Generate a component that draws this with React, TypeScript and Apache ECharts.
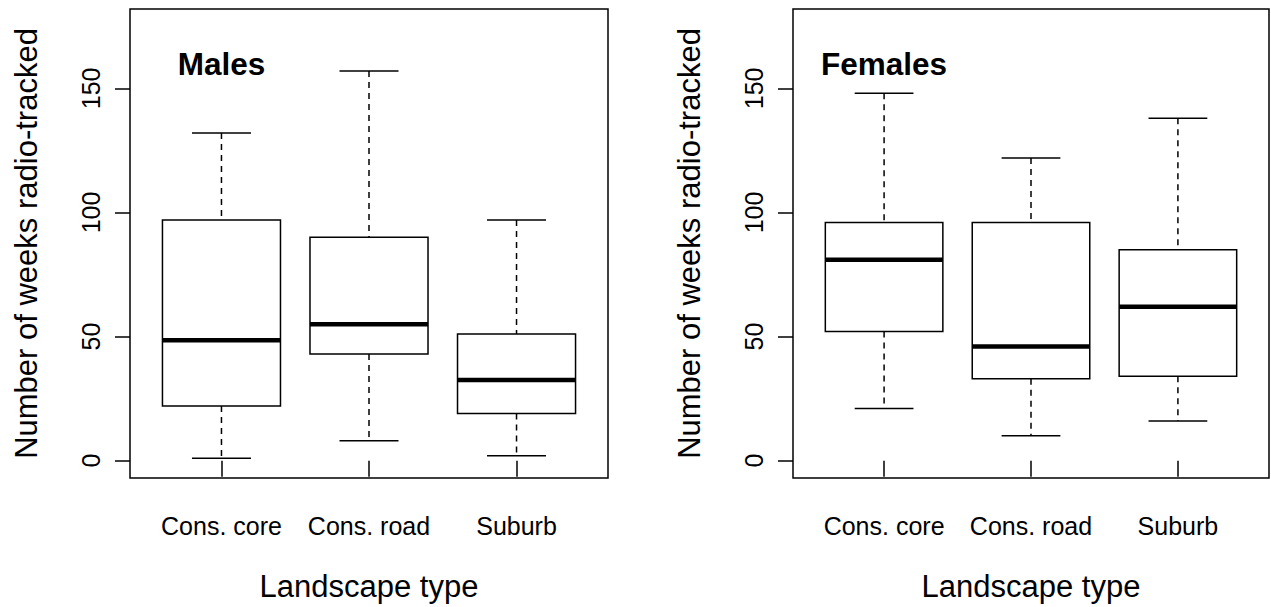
import React, { useEffect, useRef } from 'react';
import * as echarts from 'echarts';

const categories = ['Cons. core', 'Cons. road', 'Suburb'];
const xPositions = [1, 2, 3];
// [lower whisker, Q1, median, Q3, upper whisker]
const maleStats = [
  [1, 22, 48.5, 97, 132],
  [8, 43, 55, 90, 157],
  [2, 19, 32.5, 51, 97],
];
const femaleStats = [
  [21, 52, 81, 96, 148],
  [10, 33, 46, 96, 122],
  [16, 34, 62, 85, 138],
];
const yTicks = [0, 50, 100, 150];
const panelTitles = ['Males', 'Females'];
const titlePos = [1, 160];
const xTitle = 'Landscape type';
const yTitle = 'Number of weeks radio-tracked';

const FONT = '"Liberation Sans", Arial, Helvetica, sans-serif';

const renderBox = (params: any, api: any) => {
  const x = api.value(0);
  const lo = api.value(1);
  const q1 = api.value(2);
  const med = api.value(3);
  const q3 = api.value(4);
  const hi = api.value(5);
  const cx = api.coord([x, 0])[0];
  const y = (v: number) => api.coord([x, v])[1];
  const halfW = api.size([0.4, 0])[0];
  const capW = halfW / 2;
  const base = { stroke: '#000', lineWidth: 1.5, fill: null };
  return {
    type: 'group',
    children: [
      { type: 'line', shape: { x1: cx, y1: y(hi), x2: cx, y2: y(q3) }, style: { ...base, lineDash: [6, 5] } },
      { type: 'line', shape: { x1: cx, y1: y(q1), x2: cx, y2: y(lo) }, style: { ...base, lineDash: [6, 5] } },
      { type: 'line', shape: { x1: cx - capW, y1: y(hi), x2: cx + capW, y2: y(hi) }, style: base },
      { type: 'line', shape: { x1: cx - capW, y1: y(lo), x2: cx + capW, y2: y(lo) }, style: base },
      {
        type: 'rect',
        shape: { x: cx - halfW, y: y(q3), width: 2 * halfW, height: y(q1) - y(q3) },
        style: { stroke: '#000', lineWidth: 1.5, fill: '#fff' },
      },
      {
        type: 'line',
        shape: { x1: cx - halfW, y1: y(med), x2: cx + halfW, y2: y(med) },
        style: { stroke: '#000', lineWidth: 4.5, lineCap: 'butt' },
      },
    ],
  };
};

export default function App() {
  const ref = useRef<HTMLDivElement>(null);
  useEffect(() => {
    if (!ref.current) return;
    const chart = echarts.init(ref.current, null, { renderer: 'svg' });
    const grids = [
      { left: 130, top: 9, width: 478, height: 470 },
      { left: 793, top: 9, width: 476, height: 470 },
    ];
    const datasets = [maleStats, femaleStats];
    const option: any = {
      animation: false,
      backgroundColor: '#fff',
      textStyle: { fontFamily: FONT },
      grid: grids.map((g) => ({
        ...g,
        show: true,
        borderColor: '#000',
        borderWidth: 1.5,
        backgroundColor: 'transparent',
      })),
      xAxis: grids.map((_, i) => ({
        type: 'value',
        gridIndex: i,
        min: 0.38,
        max: 3.62,
        axisLine: { show: false },
        splitLine: { show: false },
        axisTick: { show: true, customValues: xPositions, length: 16, lineStyle: { color: '#000', width: 1.5 } },
        axisLabel: {
          customValues: xPositions,
          formatter: (v: number) => categories[Math.round(v) - 1],
          fontSize: 25,
          color: '#000',
          margin: 35,
          fontFamily: FONT,
        },
        name: xTitle,
        nameLocation: 'middle',
        nameGap: 93,
        nameTextStyle: { fontSize: 31, color: '#000', fontFamily: FONT },
      })),
      yAxis: grids.map((_, i) => ({
        type: 'value',
        gridIndex: i,
        min: -7,
        max: 182,
        axisLine: { show: false },
        splitLine: { show: false },
        axisTick: { show: true, customValues: yTicks, length: 15, lineStyle: { color: '#000', width: 1.5 } },
        axisLabel: {
          customValues: yTicks,
          rotate: 90,
          fontSize: 25,
          color: '#000',
          margin: 27,
          fontFamily: FONT,
        },
        name: yTitle,
        nameLocation: 'middle',
        nameRotate: 90,
        nameGap: 88,
        nameTextStyle: { fontSize: 31, color: '#000', fontFamily: FONT },
      })),
      series: [
        ...datasets.map((stats, i) => ({
          type: 'custom',
          xAxisIndex: i,
          yAxisIndex: i,
          renderItem: renderBox,
          encode: { x: 0, y: [1, 2, 3, 4, 5] },
          data: stats.map((s, k) => [xPositions[k], ...s]),
          silent: true,
        })),
        ...panelTitles.map((t, i) => ({
          type: 'scatter',
          xAxisIndex: i,
          yAxisIndex: i,
          symbolSize: 0,
          silent: true,
          itemStyle: { opacity: 1, color: '#000' },
          data: [titlePos],
          label: {
            show: true,
            position: 'inside',
            formatter: t,
            fontSize: 31.5,
            fontWeight: 'bold',
            color: '#000',
            opacity: 1,
            textBorderWidth: 0,
            fontFamily: FONT,
          },
        })),
      ],
    };
    chart.setOption(option);
    return () => chart.dispose();
  }, []);
  return (
    <div
      ref={ref}
      style={{ position: 'absolute', left: 0, top: 0, width: 1271, height: 607, background: '#fff' }}
    />
  );
}
